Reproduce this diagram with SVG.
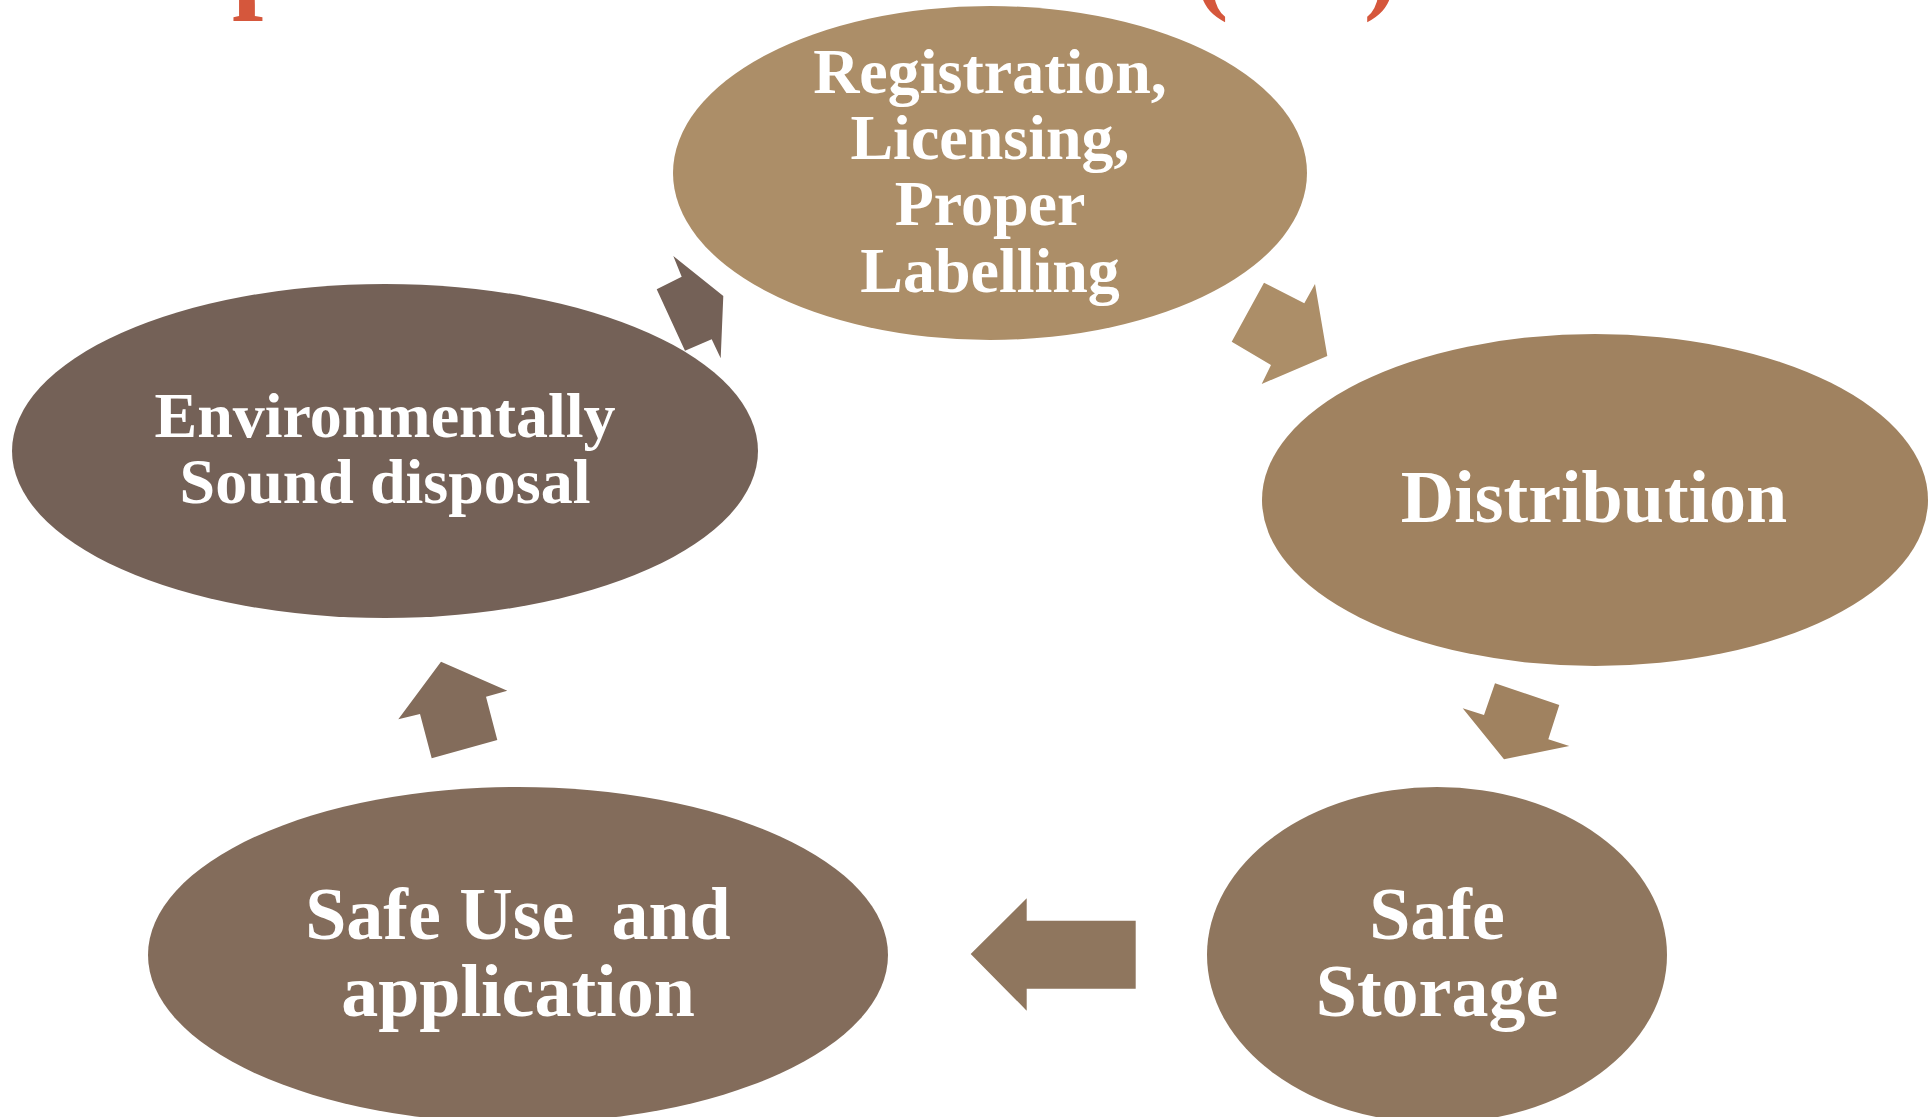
<svg xmlns="http://www.w3.org/2000/svg" width="1931" height="1117" viewBox="0 0 1931 1117">
  <style>
    .lbl { font-family: "Liberation Serif", "Times New Roman", serif; font-weight: bold; fill: #ffffff; text-anchor: middle; white-space: pre; }
    .s64 { font-size: 64px; }
    .s74 { font-size: 74px; }
    .title { font-family: "Liberation Serif", "Times New Roman", serif; font-weight: bold; font-size: 100px; fill: #D5573C; }
  </style>

  <rect width="1931" height="1117" fill="#ffffff"/>

  <!-- heading, mostly above the top edge -->
  <g id="heading">
    <text class="title" x="232" y="-3" style="font-size:112px">p</text>
    <text class="title" x="1195" y="1">(</text>
    <text class="title" x="1364" y="1">)</text>
  </g>

  <!-- cycle arrows -->
  <g id="connectors">
    <polygon fill="#746157" points="673.3,256 681.7,276.7 656.7,289.3 685,350.7 711.7,339.3 720.7,358.3 723.3,296"/>
    <polygon fill="#AC8E68" points="1264,282.7 1304.3,303.3 1315,284 1327.3,356 1261.7,384 1271,365 1231.7,341.7"/>
    <polygon fill="#A08260" points="1495,683.3 1559.3,705 1548.3,739.3 1569.3,746 1504,759.3 1462.7,708.3 1484,715"/>
    <polygon fill="#8F765E" points="970.7,954 1026.7,898.3 1026.7,920.7 1135.7,920.7 1135.7,988.7 1026.7,988.7 1026.7,1010.7"/>
    <polygon fill="#836C5B" points="441,661.7 507.3,690.7 486,696.7 497.3,740 431.7,758.3 420,714 398.3,719.3"/>
  </g>

  <g id="node-registration">
    <ellipse cx="990" cy="173" rx="317" ry="167" fill="#AC8E68"/>
    <text class="lbl s64" x="990" y="93">Registration,</text>
    <text class="lbl s64" x="990" y="159">Licensing,</text>
    <text class="lbl s64" x="990" y="225">Proper</text>
    <text class="lbl s64" x="990" y="292">Labelling</text>
  </g>

  <g id="node-distribution">
    <ellipse cx="1595" cy="500" rx="333" ry="166" fill="#A08260"/>
    <text class="lbl s74" x="1594" y="522">Distribution</text>
  </g>

  <g id="node-storage">
    <ellipse cx="1437" cy="955" rx="230" ry="168" fill="#8F765E"/>
    <text class="lbl s74" x="1437" y="939">Safe</text>
    <text class="lbl s74" x="1437" y="1016">Storage</text>
  </g>

  <g id="node-use">
    <ellipse cx="518" cy="955" rx="370" ry="168" fill="#836C5B"/>
    <text class="lbl s74" x="518" y="939">Safe Use  and</text>
    <text class="lbl s74" x="518" y="1016">application</text>
  </g>

  <g id="node-disposal">
    <ellipse cx="385" cy="451" rx="373" ry="167" fill="#746157"/>
    <text class="lbl s64" x="385" y="437">Environmentally</text>
    <text class="lbl s64" x="385" y="503">Sound disposal</text>
  </g>
</svg>
